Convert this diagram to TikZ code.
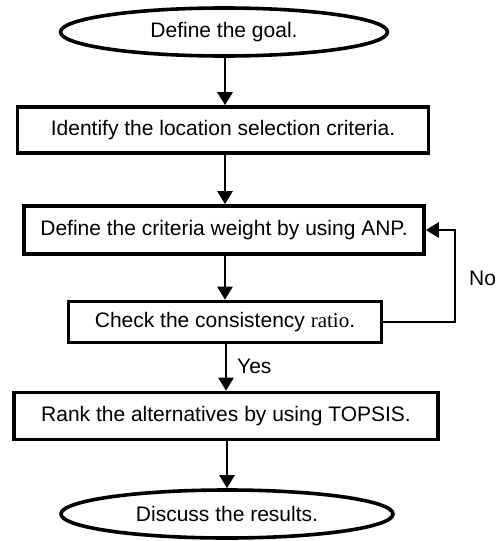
\documentclass[tikz,border=0pt]{standalone}
\usepackage{fontspec}
\setmainfont{Liberation Sans}
\usetikzlibrary{shapes.geometric,arrows.meta}
\begin{document}
\begin{tikzpicture}[x=1pt,y=-1pt,
  every node/.style={font=\fontsize{21}{24}\selectfont, inner sep=0pt},
  procbox/.style={draw, line width=3.6pt, rectangle, minimum height=46pt},
  termin/.style={draw, line width=3.6pt, ellipse, minimum height=48pt},
  flow/.style={line width=2.6pt, -{Triangle[length=13pt,width=15pt]}}]
\useasboundingbox (0,0) rectangle (500,541);
\node[termin, minimum width=327pt] (g) at (224,32) {Define the goal.};
\node[procbox, minimum width=411pt] (b1) at (223,130) {Identify the location selection criteria.};
\node[procbox, minimum width=400pt, minimum height=48pt] (b2) at (224,230) {Define the criteria weight by using ANP.};
\node[procbox, minimum width=313pt, minimum height=41pt] (b3) at (225,322) {Check the consistency {\fontspec{Liberation Serif}ratio}.};
\node[procbox, minimum width=424pt, minimum height=47pt] (b4) at (226,416) {Rank the alternatives by using TOPSIS.};
\node[termin, minimum width=332pt] (r) at (227,514) {Discuss the results.};
\coordinate (c1) at (455,322);
\coordinate (c2) at (455,230);
\draw[flow] (g.south -| 225,0) -- (b1.north -| 225,0);
\draw[flow] (b1.south -| 225,0) -- (b2.north -| 225,0);
\draw[flow] (b2.south -| 225,0) -- (b3.north -| 225,0);
\draw[flow] (b3.south -| 226,0) -- (b4.north -| 226,0);
\draw[flow] (b4.south -| 227,0) -- (r.north -| 227,0);
\draw[flow] (b3.east) -- (c1) -- (c2) -- (b2.east);
\node[anchor=west] (no) at (469,278) {No};
\node[anchor=west] (yes) at (237,366) {Yes};
\end{tikzpicture}
\end{document}
